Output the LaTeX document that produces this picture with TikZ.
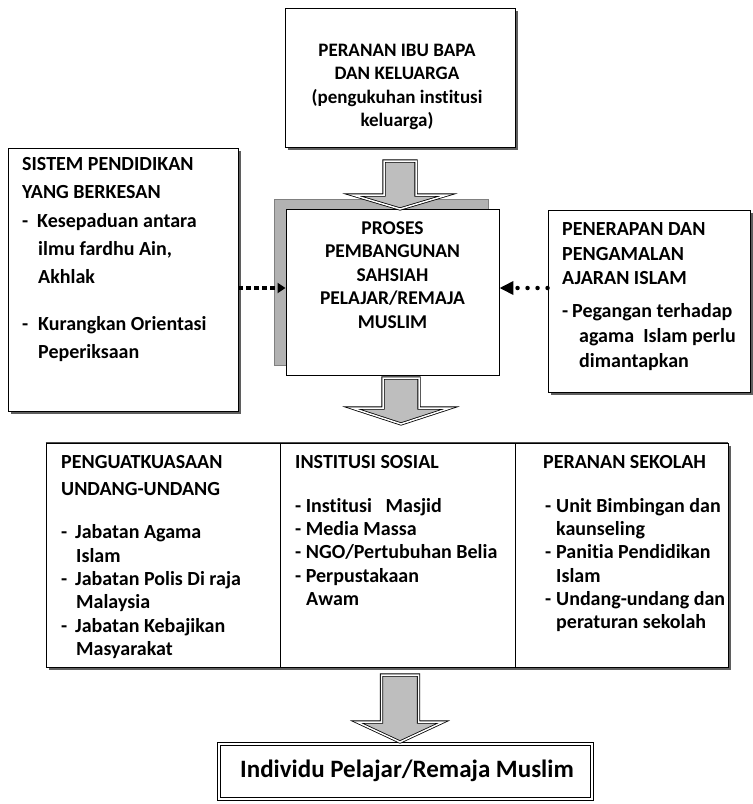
\documentclass[tikz,border=0pt]{standalone}
\usepackage{fontspec}
\setmainfont{Carlito}[Ligatures={NoCommon}]
\usetikzlibrary{arrows.meta,calc,shadows}
\definecolor{shadowgray}{RGB}{95,95,95}
\definecolor{arrowgray}{RGB}{190,190,190}
\definecolor{backgray}{RGB}{178,178,178}
\newcommand\txl[4]{\node[txt] (#1) at (#2,#3) {#4};}
\newcommand\ctxl[5]{\node[ctxt,font=\fontsize{#5}{23}\selectfont\bfseries] (#1) at (#2,#3) {#4};}
\newcommand\bigarrow[7]{% cx, ytop, yhead, ytip, shaft hw, head hw, name
  \draw[bigarr] (#1-#5,#2) -- (#1+#5,#2) -- (#1+#5,#3) -- (#1+#6,#3) -- (#1,#4) -- (#1-#6,#3) -- (#1-#5,#3) -- cycle;}
\begin{document}
\begin{tikzpicture}[x=1pt,y=-1pt,
  box/.style={draw=black,line width=0.9pt,fill=white,inner sep=0pt,
    drop shadow={shadow xshift=3pt,shadow yshift=-3pt,fill=shadowgray,opacity=1}},
  plainbox/.style={draw=black,line width=0.9pt,fill=white,inner sep=0pt},
  txt/.style={anchor=base west,inner sep=0pt,font=\fontsize{20}{24}\selectfont\bfseries},
  ctxt/.style={anchor=base,inner sep=0pt},
  bigarr/.style={fill=arrowgray,draw=black,line width=0.8pt,double=white,double distance=1.5pt,line join=miter},
  dotsq/.style={line width=3.5pt,dash pattern=on 4.5pt off 3.5pt,-{Triangle[length=8pt,width=10pt]}},
  dotrd/.style={line width=4.5pt,line cap=round,dash pattern=on 0pt off 10pt,-{Triangle[length=14pt,width=13pt]}}
]
\useasboundingbox (0,0) rectangle (753,804);
\fill[white] (0,0) rectangle (753,804);

% boxes
\node[box,minimum width=230pt,minimum height=139pt] (top) at (400,77.5) {};
\node[box,minimum width=230pt,minimum height=263pt] (left) at (123,279.5) {};
\node[draw=gray,line width=0.6pt,fill=backgray,inner sep=0pt,minimum width=214pt,minimum height=166pt] (ctrback) at (381,282) {};
\node[plainbox,minimum width=213pt,minimum height=166pt] (ctr) at (392.5,292) {};
\node[box,minimum width=202pt,minimum height=182pt] (right) at (649,301) {};
\node[box,minimum width=234pt,minimum height=224pt] (b1) at (163,555) {};
\node[box,minimum width=235pt,minimum height=224pt] (b2) at (397.5,555) {};
\node[box,minimum width=213pt,minimum height=224pt] (b3) at (621.5,555) {};
\draw[shadowgray!80!black,line width=1.6pt] (b1.north west) -- (b3.north east);
\node[draw=black,line width=1pt,double=white,double distance=2pt,fill=white,inner sep=0pt,minimum width=373pt,minimum height=55pt] (final) at (405.5,771.5) {};

% big arrows
\bigarrow{400}{161}{195}{209}{16}{47}{a1}
\bigarrow{401}{378}{408}{424}{18}{49}{a2}
\bigarrow{400}{675}{722}{742}{18.5}{43}{a3}

% dotted arrows
\draw[dotsq] ([yshift=4pt]left.east |- ctr.west) -- ([yshift=4pt]ctr.west);
\draw[dotrd] ([yshift=13pt]right.west) -- ([yshift=4pt]ctr.east);

% top box text
\ctxl{t1}{397}{56}{PERANAN IBU BAPA}{19}
\ctxl{t2}{397}{79.5}{DAN KELUARGA}{19}
\ctxl{t3}{397}{103}{(pengukuhan institusi}{19}
\ctxl{t4}{397}{126.5}{keluarga)}{19}

% centre box text
\ctxl{c1}{392.5}{234}{PROSES}{19.5}
\ctxl{c2}{392.5}{257.5}{PEMBANGUNAN}{19.5}
\ctxl{c3}{392.5}{281}{SAHSIAH}{19.5}
\ctxl{c4}{392.5}{304.5}{PELAJAR/REMAJA}{19.5}
\ctxl{c5}{392.5}{328}{MUSLIM}{19.5}

% left box text
\txl{l1}{22}{170}{SISTEM PENDIDIKAN}
\txl{l2}{22}{198}{YANG BERKESAN}
\txl{l3d}{22}{227}{-}
\txl{l3}{37}{227}{Kesepaduan antara}
\txl{l4}{38}{255}{ilmu fardhu Ain,}
\txl{l5}{38}{283}{Akhlak}
\txl{l6d}{22}{330}{-}
\txl{l6}{38}{330}{Kurangkan Orientasi}
\txl{l7}{38}{358}{Peperiksaan}

% right box text
\txl{r1}{562}{235}{PENERAPAN DAN}
\txl{r2}{562}{260}{PENGAMALAN}
\txl{r3}{562}{284}{AJARAN ISLAM}
\txl{r4d}{562}{317}{-}
\txl{r4}{572}{317}{Pegangan terhadap}
\txl{r5}{579}{342}{agama\ \ Islam perlu}
\txl{r6}{579}{367}{dimantapkan}

% bottom left text
\txl{p1}{61}{468}{PENGUATKUASAAN}
\txl{p2}{61}{495}{UNDANG-UNDANG}
\txl{p3d}{61}{538}{-}
\txl{p3}{75}{538}{Jabatan Agama}
\txl{p4}{76}{562}{Islam}
\txl{p5d}{61}{585}{-}
\txl{p5}{75}{585}{Jabatan Polis Di raja}
\txl{p6}{76}{608}{Malaysia}
\txl{p7d}{61}{632}{-}
\txl{p7}{75}{632}{Jabatan Kebajikan}
\txl{p8}{76}{655}{Masyarakat}

% bottom middle text
\txl{s1}{295}{468}{INSTITUSI SOSIAL}
\txl{s2}{295}{512}{- Institusi\ \ \ Masjid}
\txl{s3}{295}{535}{- Media Massa}
\txl{s4}{295}{558}{- NGO/Pertubuhan Belia}
\txl{s5}{295}{582}{- Perpustakaan}
\txl{s6}{306}{605}{Awam}

% bottom right text
\txl{k1}{543}{468}{PERANAN SEKOLAH}
\txl{k2d}{545}{512}{-}
\txl{k2}{556}{512}{Unit Bimbingan dan}
\txl{k3}{556}{535}{kaunseling}
\txl{k4d}{545}{558}{-}
\txl{k4}{556}{558}{Panitia Pendidikan}
\txl{k5}{556}{582}{Islam}
\txl{k6d}{545}{605}{-}
\txl{k6}{556}{605}{Undang-undang dan}
\txl{k7}{556}{628}{peraturan sekolah}

% final text
\node[anchor=base,inner sep=0pt,font=\fontsize{25}{30}\selectfont\bfseries] (ft) at (407,777) {Individu Pelajar/Remaja Muslim};
\end{tikzpicture}
\end{document}
